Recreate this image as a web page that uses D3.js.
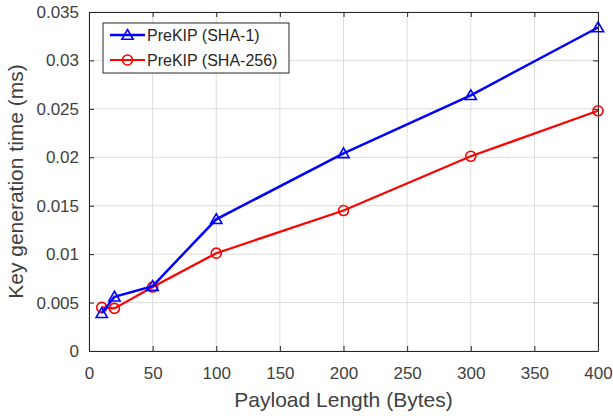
<!DOCTYPE html>
<html>
<head>
<meta charset="utf-8">
<script src="https://cdn.jsdelivr.net/npm/d3@7"></script>
<style>
  body { margin: 0; background: #fff; }
  svg { display: block; font-family: "Liberation Sans", Arial, sans-serif; }
</style>
</head>
<body>
<svg class="chart" width="613" height="416"></svg>
<script>
const payloadLengths = [10, 20, 50, 100, 200, 300, 400];
const sha1Times = [0.0039, 0.0056, 0.0067, 0.0136, 0.0204, 0.0264, 0.0334];
const sha256Times = [0.0045, 0.0044, 0.0066, 0.0101, 0.0145, 0.0201, 0.0248];
const xTicks = [0, 50, 100, 150, 200, 250, 300, 350, 400];
const yTicks = [0, 0.005, 0.01, 0.015, 0.02, 0.025, 0.03, 0.035];
const seriesNames = ['PreKIP (SHA-1)', 'PreKIP (SHA-256)'];

const margin = { top: 12, left: 89, bottom: 65, right: 15 };
const width = 613 - margin.left - margin.right;
const height = 416 - margin.top - margin.bottom;
const axisColor = '#262626';

const xScale = d3.scaleLinear().domain([0, 400]).range([0, width]);
const yScale = d3.scaleLinear().domain([0, 0.035]).range([height, 0]);

const chart = d3.select('.chart')
  .append('g')
  .attr('transform', `translate(${margin.left}, ${margin.top})`);

// grid
chart.append('g').selectAll('line')
  .data(xTicks)
  .enter().append('line')
  .attr('x1', d => xScale(d)).attr('x2', d => xScale(d))
  .attr('y1', 0).attr('y2', height)
  .attr('stroke', '#dcdcdc').attr('stroke-width', 1);
chart.append('g').selectAll('line')
  .data(yTicks)
  .enter().append('line')
  .attr('x1', 0).attr('x2', width)
  .attr('y1', d => yScale(d)).attr('y2', d => yScale(d))
  .attr('stroke', '#dcdcdc').attr('stroke-width', 1);

const xAxis = d3.axisBottom(xScale).tickValues(xTicks).tickSizeInner(-5).tickSizeOuter(0).tickPadding(16);
const yAxis = d3.axisLeft(yScale).tickValues(yTicks).tickSizeInner(-5).tickSizeOuter(0).tickPadding(10)
  .tickFormat(d => d === 0 ? '0' : String(+d.toFixed(3)));
const xAxisTop = d3.axisTop(xScale).tickValues(xTicks).tickSizeInner(-5).tickSizeOuter(0).tickFormat('');
const yAxisRight = d3.axisRight(yScale).tickValues(yTicks).tickSizeInner(-5).tickSizeOuter(0).tickFormat('');

const styleAxis = g => {
  g.selectAll('path').attr('stroke', axisColor);
  g.selectAll('line').attr('stroke', axisColor);
  g.selectAll('text').attr('fill', '#404040').style('font-size', '17px');
};

chart.append('g').attr('transform', `translate(0, ${height})`).call(xAxis).call(styleAxis);
chart.append('g').call(yAxis).call(styleAxis);
chart.append('g').call(xAxisTop).call(styleAxis);
chart.append('g').attr('transform', `translate(${width}, 0)`).call(yAxisRight).call(styleAxis);

const line = d3.line()
  .x(d => xScale(d[0]))
  .y(d => yScale(d[1]));

const sha1Data = payloadLengths.map((x, i) => [x, sha1Times[i]]);
const sha256Data = payloadLengths.map((x, i) => [x, sha256Times[i]]);

const triangle = d3.symbol().type(d3.symbolTriangle).size(55);

chart.append('path').datum(sha256Data)
  .attr('fill', 'none').attr('stroke', '#ff0000').attr('stroke-width', 2.2)
  .attr('d', line);
chart.selectAll('.red-dot')
  .data(sha256Data)
  .enter().append('circle')
  .classed('red-dot', true)
  .attr('cx', d => xScale(d[0])).attr('cy', d => yScale(d[1]))
  .attr('r', 5)
  .attr('fill', 'none').attr('stroke', '#ff0000').attr('stroke-width', 1.6);

chart.append('path').datum(sha1Data)
  .attr('fill', 'none').attr('stroke', '#0000ff').attr('stroke-width', 2.5)
  .attr('d', line);
chart.selectAll('.blue-tri')
  .data(sha1Data)
  .enter().append('path')
  .classed('blue-tri', true)
  .attr('transform', d => `translate(${xScale(d[0])}, ${yScale(d[1]) + 1})`)
  .attr('d', triangle)
  .attr('fill', 'none').attr('stroke', '#0000ff').attr('stroke-width', 1.6);

// axis labels
chart.append('text')
  .attr('x', width / 2).attr('y', height + 56)
  .attr('text-anchor', 'middle')
  .attr('fill', '#404040').style('font-size', '21px')
  .text('Payload Length (Bytes)');
chart.append('text')
  .attr('transform', `translate(${-66}, ${height / 2}) rotate(-90)`)
  .attr('text-anchor', 'middle')
  .attr('fill', '#404040').style('font-size', '21px')
  .text('Key generation time (ms)');

// legend
const legend = chart.append('g').attr('transform', `translate(${103 - margin.left}, ${23 - margin.top})`);
legend.append('rect')
  .attr('width', 186).attr('height', 50)
  .attr('fill', '#fff').attr('stroke', axisColor).attr('stroke-width', 1);
const legendColors = ['#0000ff', '#ff0000'];
seriesNames.forEach((name, i) => {
  const y = 12 + i * 25;
  legend.append('line')
    .attr('x1', 7).attr('x2', 42).attr('y1', y).attr('y2', y)
    .attr('stroke', legendColors[i]).attr('stroke-width', i === 0 ? 2.5 : 2.2);
  if (i === 0) {
    legend.append('path')
      .attr('transform', `translate(24.5, ${y + 1})`)
      .attr('d', triangle)
      .attr('fill', 'none').attr('stroke', legendColors[i]).attr('stroke-width', 1.6);
  } else {
    legend.append('circle')
      .attr('cx', 24.5).attr('cy', y).attr('r', 5)
      .attr('fill', 'none').attr('stroke', legendColors[i]).attr('stroke-width', 1.6);
  }
  legend.append('text')
    .attr('x', 44).attr('y', y + 6)
    .attr('fill', '#262626').style('font-size', '16px')
    .text(name);
});
</script>
</body>
</html>
